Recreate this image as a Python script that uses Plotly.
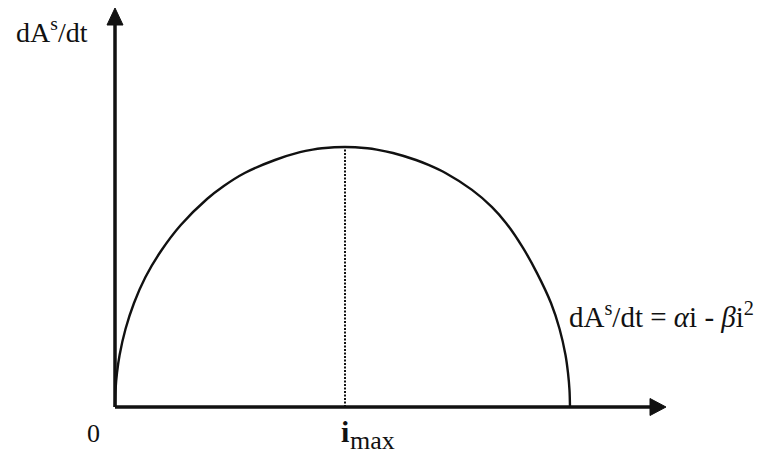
import plotly.graph_objects as go

# Rate of change dA^s/dt against i (normalised: i runs 0..1, peak rate = 1)
current_i = [0.0000, 0.0011, 0.0044, 0.0101, 0.0231, 0.0418, 0.0670, 0.1011, 0.1446, 0.2022,
             0.2391, 0.2850, 0.3516, 0.4066, 0.4343, 0.4549, 0.5055,
             0.5549, 0.5752, 0.6110, 0.6615, 0.6890, 0.7264, 0.7846, 0.8286, 0.8593, 0.8967,
             0.9275, 0.9582, 0.9771, 0.9901, 0.9956, 0.9989, 1.0000]
rate = [0.000, 0.065, 0.131, 0.200, 0.300, 0.400, 0.500, 0.600, 0.700, 0.800,
        0.850, 0.900, 0.950, 0.980, 0.990, 0.995, 1.000,
        0.995, 0.990, 0.977, 0.950, 0.931, 0.900, 0.835, 0.769, 0.708, 0.612,
        0.515, 0.400, 0.300, 0.200, 0.131, 0.065, 0.000]
i_max = 0.5055
rate_max = 1.0

W, H = 757, 457
# pixel scale of the data units
PX_X, PX_Y = 455.0, 260.0
X0_PX, Y0_PX = 115.0, 407.0
x_range = [(0 - X0_PX) / PX_X, (W - X0_PX) / PX_X]
y_range = [(Y0_PX - H) / PX_Y, Y0_PX / PX_Y]

def dx(px):
    return px / PX_X

def dy(px):
    return px / PX_Y

INK = "#111111"
SERIF = "Liberation Serif"

fig = go.Figure()

fig.add_trace(go.Scatter(
    x=current_i, y=rate, mode="lines",
    line=dict(color=INK, width=2.4, shape="spline", smoothing=0.8),
    hoverinfo="skip", showlegend=False,
))

# dotted drop line at the maximum
fig.add_trace(go.Scatter(
    x=[i_max, i_max], y=[0, rate_max], mode="lines",
    line=dict(color=INK, width=2, dash="2px,1.5px"),
    hoverinfo="skip", showlegend=False,
))

x_end = dx(551)
y_end = dy(399)
head_len_x, head_half_x = dx(16), dy(8.5)
head_len_y, head_half_y = dy(17), dx(8)

shapes = [
    # axes
    dict(type="line", xref="x", yref="y", x0=0, y0=0, x1=0, y1=y_end - head_len_y,
         line=dict(color=INK, width=3.5)),
    dict(type="line", xref="x", yref="y", x0=0, y0=0, x1=x_end - head_len_x, y1=0,
         line=dict(color=INK, width=3.5)),
    # arrow heads
    dict(type="path", xref="x", yref="y",
         path=f"M {-head_half_y} {y_end - head_len_y} L 0 {y_end} L {head_half_y} {y_end - head_len_y} Z",
         fillcolor=INK, line=dict(color=INK, width=1)),
    dict(type="path", xref="x", yref="y",
         path=f"M {x_end - head_len_x} {-head_half_x} L {x_end} 0 L {x_end - head_len_x} {head_half_x} Z",
         fillcolor=INK, line=dict(color=INK, width=1)),
]

annotations = [
    dict(x=dx(14 - X0_PX), y=dy(Y0_PX - 30), xref="x", yref="y",
         text="dA<sup>s</sup>/dt", showarrow=False, xanchor="left", yanchor="middle",
         font=dict(family=SERIF, size=28, color=INK)),
    dict(x=dx(93 - X0_PX), y=dy(Y0_PX - 433), xref="x", yref="y",
         text="0", showarrow=False, xanchor="center", yanchor="middle",
         font=dict(family=SERIF, size=26, color=INK)),
    dict(x=i_max, y=dy(Y0_PX - 431), xref="x", yref="y",
         text="<b>i</b>", showarrow=False, xanchor="center", yanchor="middle",
         font=dict(family=SERIF, size=30, color=INK)),
    dict(x=dx(348 - X0_PX), y=dy(Y0_PX - 440), xref="x", yref="y",
         text="max", showarrow=False, xanchor="left", yanchor="middle",
         font=dict(family=SERIF, size=26, color=INK)),
    dict(x=dx(567 - X0_PX), y=dy(Y0_PX - 315), xref="x", yref="y",
         text="dA<sup>s</sup>/dt = <i>α</i>i - <i>β</i>i<sup>2</sup>", showarrow=False,
         xanchor="left", yanchor="middle",
         font=dict(family=SERIF, size=29, color=INK)),
]

fig.update_layout(
    width=W, height=H, autosize=False,
    margin=dict(l=0, r=0, t=0, b=0),
    paper_bgcolor="white", plot_bgcolor="white",
    xaxis=dict(range=x_range, visible=False, fixedrange=True),
    yaxis=dict(range=y_range, visible=False, fixedrange=True),
    shapes=shapes, annotations=annotations,
    showlegend=False,
)

fig.write_html("out.html", config={"displayModeBar": False})
